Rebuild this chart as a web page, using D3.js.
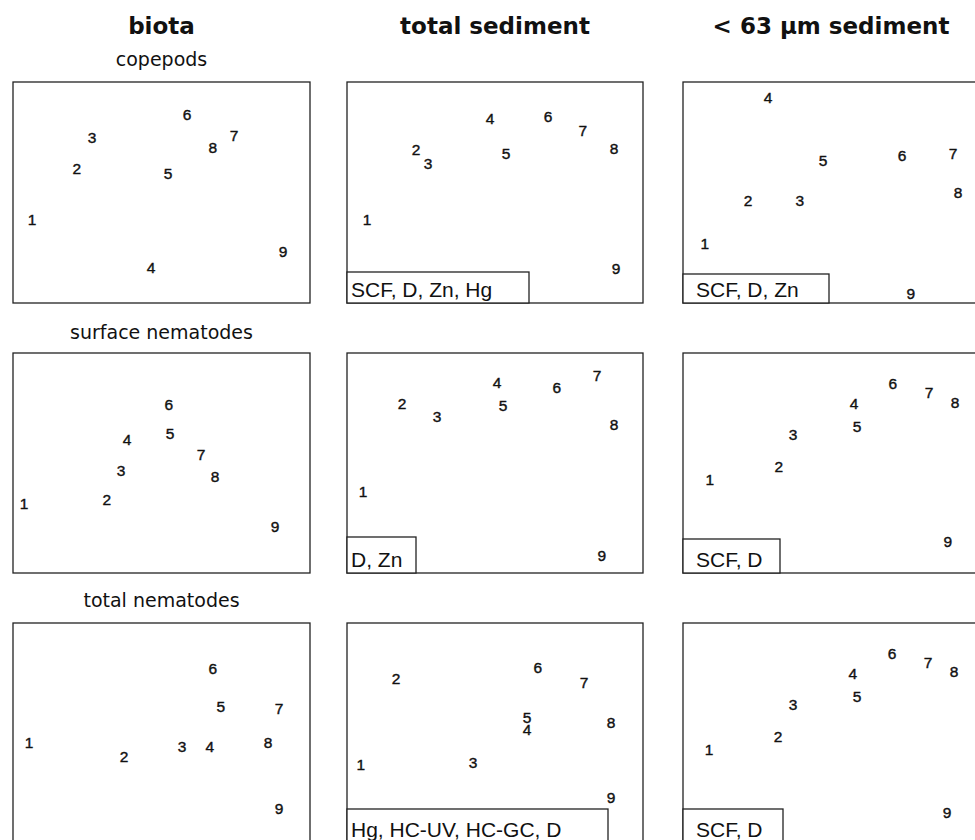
<!DOCTYPE html>
<html>
<head>
<meta charset="utf-8">
<script src="https://cdn.jsdelivr.net/npm/d3@7"></script>
<style>
  body { margin: 0; background: #fff; }
</style>
</head>
<body>
<div id="chart"></div>
<script>
// column and row titles
const columns = ["biota", "total sediment", "< 63 \u00b5m sediment"];
const rows = ["copepods", "surface nematodes", "total nematodes"];
const stations = ["1", "2", "3", "4", "5", "6", "7", "8", "9"];

// MDS positions of stations 1..9 (0-100 units)
const copBiotaX = [6.4, 21.5, 26.6, 46.5, 52.2, 58.6, 74.4, 67.3, 90.9];
const copBiotaY = [38.0, 61.1, 74.7, 16.3, 58.8, 85.5, 76.0, 70.6, 23.5];
const copTotalX = [6.8, 23.3, 27.4, 48.3, 53.7, 67.9, 79.7, 90.2, 90.9];
const copTotalY = [38.0, 69.7, 63.3, 83.7, 67.9, 84.2, 78.3, 70.1, 15.8];
const copFineX = [7.4, 22.0, 39.5, 28.7, 47.3, 74.0, 91.2, 92.9, 77.0];
const copFineY = [27.1, 46.6, 46.6, 93.2, 64.7, 67.0, 67.9, 50.2, 4.5];

const surfBiotaX = [3.7, 31.6, 36.4, 38.4, 52.9, 52.5, 63.3, 68.0, 88.2];
const surfBiotaY = [31.8, 33.6, 46.8, 60.5, 63.6, 76.8, 54.1, 44.1, 21.4];
const surfTotalX = [5.4, 18.6, 30.4, 50.7, 52.7, 70.9, 84.5, 90.2, 86.1];
const surfTotalY = [37.3, 77.3, 71.4, 86.8, 76.4, 84.5, 90.0, 67.7, 8.2];
const surfFineX = [9.1, 32.4, 37.2, 57.8, 58.8, 70.9, 83.1, 91.9, 89.5];
const surfFineY = [42.7, 48.6, 63.2, 77.3, 66.8, 86.4, 82.3, 77.7, 14.5];

const totBiotaX = [5.4, 37.4, 56.9, 66.3, 70.0, 67.3, 89.6, 85.9, 89.6];
const totBiotaY = [45.9, 39.5, 44.1, 44.1, 62.3, 79.5, 61.4, 45.9, 15.5];
const totTotalX = [4.7, 16.6, 42.6, 60.8, 60.8, 64.5, 80.1, 89.2, 89.2];
const totTotalY = [35.5, 75.0, 36.8, 51.8, 57.3, 80.0, 73.2, 55.0, 20.5];
const totFineX = [8.8, 32.1, 37.2, 57.4, 58.8, 70.6, 82.8, 91.6, 89.2];
const totFineY = [42.7, 48.6, 63.2, 77.3, 66.8, 86.4, 82.3, 78.2, 14.1];

// variables that best explain each sediment configuration
const legendText = [
  ["", "SCF, D, Zn, Hg", "SCF, D, Zn"],
  ["", "D, Zn", "SCF, D"],
  ["", "Hg, HC-UV, HC-GC, D", "SCF, D"]
];

const panelX = [
  [copBiotaX, copTotalX, copFineX],
  [surfBiotaX, surfTotalX, surfFineX],
  [totBiotaX, totTotalX, totFineX]
];
const panelY = [
  [copBiotaY, copTotalY, copFineY],
  [surfBiotaY, surfTotalY, surfFineY],
  [totBiotaY, totTotalY, totFineY]
];

// layout
const width = 975;
const height = 840;
const colLeft = [13, 347, 683];
const boxW = [297, 296, 296];
const rowTop = [82, 353, 623];
const boxH = [221, 220, 220];
const legendW = [[0, 182, 146], [0, 69, 97], [0, 261, 100]];
const legendH = [[0, 31, 29], [0, 36, 34], [0, 34, 34]];
const legendPad = [0, 4, 13];

const svg = d3.select("#chart").append("svg")
  .attr("width", width)
  .attr("height", height);

// column headers
columns.forEach((c, j) => {
  svg.append("text")
    .attr("x", colLeft[j] + boxW[j] / 2)
    .attr("y", 34)
    .attr("text-anchor", "middle")
    .attr("font-family", "DejaVu Sans, sans-serif")
    .attr("font-weight", "bold")
    .attr("font-size", "23px")
    .attr("fill", "#111")
    .text(c);
});

// row titles over the biota column
const rowTitleY = [66, 339, 607];
rows.forEach((r, i) => {
  svg.append("text")
    .attr("x", colLeft[0] + boxW[0] / 2)
    .attr("y", rowTitleY[i])
    .attr("text-anchor", "middle")
    .attr("font-family", "DejaVu Sans, sans-serif")
    .attr("font-size", "19px")
    .attr("fill", "#111")
    .text(r);
});

rows.forEach((r, i) => {
  columns.forEach((c, j) => {
    const x = d3.scaleLinear().domain([0, 100])
      .range([colLeft[j], colLeft[j] + boxW[j]]);
    const y = d3.scaleLinear().domain([0, 100])
      .range([rowTop[i] + boxH[i], rowTop[i]]);

    const g = svg.append("g");

    g.append("rect")
      .attr("x", x(0))
      .attr("y", y(100))
      .attr("width", x(100) - x(0))
      .attr("height", y(0) - y(100))
      .attr("fill", "none")
      .attr("stroke", "#222")
      .attr("stroke-width", 1.3);

    const pts = stations.map((s, k) => ({ s, x: panelX[i][j][k], y: panelY[i][j][k] }));

    g.selectAll("text.stn")
      .data(pts)
      .join("text")
      .attr("class", "stn")
      .attr("x", d => x(d.x))
      .attr("y", d => y(d.y))
      .attr("dy", "0.36em")
      .attr("text-anchor", "middle")
      .attr("font-family", "Liberation Sans, Arial, sans-serif")
      .attr("font-size", "15.5px")
      .attr("fill", "#111")
      .attr("stroke", "#111")
      .attr("stroke-width", 0.4)
      .text(d => d.s);

    // legend box in the lower left corner
    const lab = legendText[i][j];
    if (lab) {
      g.append("rect")
        .attr("x", x(0))
        .attr("y", y(0) - legendH[i][j])
        .attr("width", legendW[i][j])
        .attr("height", legendH[i][j])
        .attr("fill", "#fff")
        .attr("stroke", "#222")
        .attr("stroke-width", 1.3);

      g.append("text")
        .attr("x", x(0) + legendPad[j])
        .attr("y", y(0) - 6)
        .attr("font-family", "Liberation Sans, Arial, sans-serif")
        .attr("font-size", "21px")
        .attr("fill", "#111")
        .text(lab);
    }
  });
});
</script>
</body>
</html>
